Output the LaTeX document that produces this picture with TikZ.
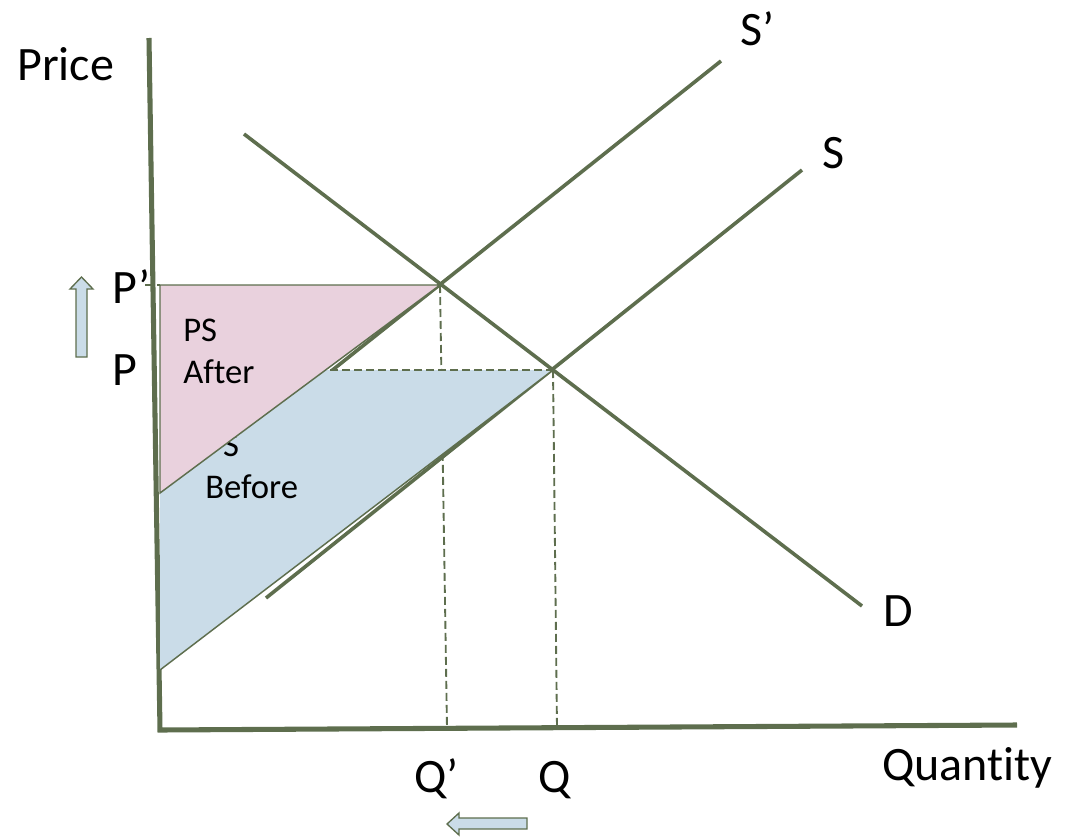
\documentclass[tikz,border=0pt]{standalone}
\usepackage{fontspec}
\setmainfont{Carlito}[Ligatures={NoCommon}]
\definecolor{olv}{RGB}{94,110,78}
\definecolor{psblue}{RGB}{202,220,232}
\definecolor{pspink}{RGB}{233,209,221}

\begin{document}
\begin{tikzpicture}[x=0.75pt,y=-0.75pt,
  ax/.style={draw=olv,line width=3.8pt,line join=miter},
  curve/.style={draw=olv,line width=2.7pt},
  edge/.style={draw=olv,line width=1.1pt},
  guide/.style={draw=olv,line width=1.4pt,dash pattern=on 6pt off 3pt},
  lbl/.style={font=\fontsize{36}{42}\selectfont,inner sep=0pt,anchor=base west},
  area/.style={font=\fontsize{26}{31.5}\selectfont,inner sep=0pt,align=left,anchor=base west},
  shiftarrow/.style={draw=olv,line width=1pt,fill=psblue,line join=miter}
]
\useasboundingbox (0,0) rectangle (1068,836);

% points
\coordinate (ytop) at (149,38);
\coordinate (origin) at (160,730);
\coordinate (xend) at (1017,725);
\coordinate (eq) at (553,370);   % before
\coordinate (eqnew) at (440,285); % after
\coordinate (qnew) at (447,728);
\coordinate (qold) at (557,728);
\coordinate (pnewstub) at (145,285);
\coordinate (pold) at (330,370);
\coordinate (dtop) at (244,134);
\coordinate (dend) at (862,606);
\coordinate (stop) at (802,170);
\coordinate (slow) at (266,598);
\coordinate (sntop) at (721,61);
\coordinate (snlow) at (330,372);
\coordinate (blueA) at (160,670);
\coordinate (blueB) at (160,370);
\coordinate (pinkA) at (160,285);
\coordinate (pinkB) at (160,493);

% axes
\draw[ax] (ytop) -- (origin) -- (xend);

% guides
\draw[guide] (eqnew) -- (qnew);
\draw[guide] (eq) -- (qold);
\draw[guide] (pnewstub) -- (pinkA);

% supply and demand
\draw[curve] (slow) -- (stop);
\draw[curve] (snlow) -- (sntop);
\draw[curve] (dtop) -- (dend);

% surplus before
\fill[psblue] (blueA) -- (blueB) -- (eq) -- cycle;
\draw[edge] (blueA) -- (eq);
\node[area] (psb) at (205,498) {PS\\Before};

% surplus after
\filldraw[fill=pspink,edge] (pinkA) -- (eqnew) -- (pinkB) -- cycle;
\node[area] (psa) at (183,383) {PS\\After};
\draw[guide] (pold) -- (eq);

% labels
\node[lbl] (price) at (17,80) {Price};
\node[lbl] (quantity) at (882,780) {Quantity};
\node[lbl] (snlbl) at (740,45) {S’};
\node[lbl] (slbl) at (822,168) {S};
\node[lbl] (dlbl) at (883,626) {D};
\node[lbl] (pnew) at (112,303) {P’};
\node[lbl] (p) at (112,385) {P};
\node[lbl] (qnlbl) at (414,792) {Q’};
\node[lbl] (qlbl) at (538,792) {Q};

% direction of the shifts
\draw[shiftarrow] (76,357) -- (76,289) -- (70,289) -- (81.5,277) -- (93,289)
  -- (87,289) -- (87,357) -- cycle;
\draw[shiftarrow] (527,818) -- (459,818) -- (459,813) -- (447,824) -- (459,835)
  -- (459,829) -- (527,829) -- cycle;
\end{tikzpicture}
\end{document}
